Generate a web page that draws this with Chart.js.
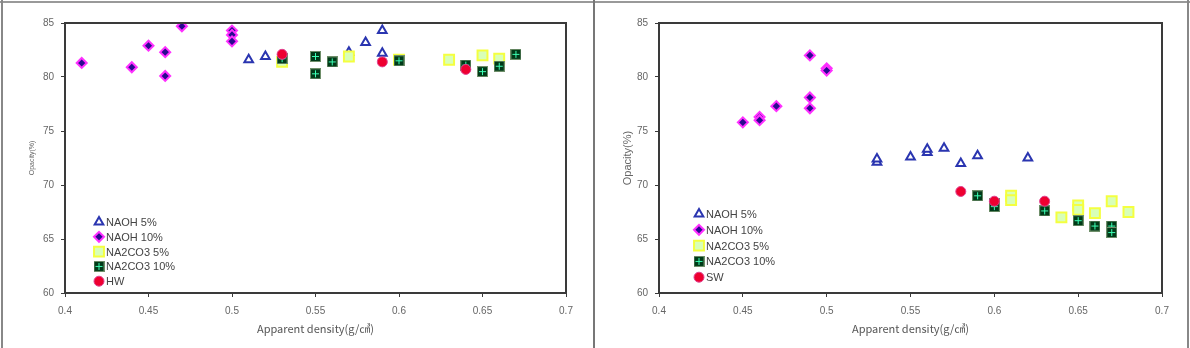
<!DOCTYPE html>
<html>
<head>
<meta charset="utf-8">
<script src="https://cdn.jsdelivr.net/npm/chart.js@4"></script>
<style>
  body { margin: 0; background: #fff; }
  #wrap { position: relative; width: 1190px; height: 348px; overflow: hidden; background: #fff; }
  .line { position: absolute; background: #888; }
  canvas { position: absolute; top: 0; }
</style>
</head>
<body>
<div id="wrap">
  <canvas id="left" width="594" height="348" style="left:0"></canvas>
  <canvas id="right" width="596" height="348" style="left:594px"></canvas>
  <div class="line" style="left:0;top:1px;width:1190px;height:2px;background:#999"></div>
  <div class="line" style="left:1px;top:0;width:2px;height:348px"></div>
  <div class="line" style="left:593px;top:0;width:2px;height:348px;background:#777"></div>
  <div class="line" style="left:1187px;top:0;width:2px;height:348px"></div>
</div>
<script>
// ---- data: left panel (HW) ----
var leftNaoh5X = [0.51, 0.52, 0.57, 0.58, 0.59, 0.59];
var leftNaoh5Y = [81.6, 81.9, 82.3, 83.2, 84.3, 82.2];
var leftNaoh10X = [0.41, 0.44, 0.45, 0.46, 0.46, 0.47, 0.5, 0.5, 0.5];
var leftNaoh10Y = [81.3, 80.9, 82.9, 82.3, 80.1, 84.7, 84.3, 83.9, 83.3];
var leftNa5X = [0.53, 0.57, 0.6, 0.63, 0.65, 0.66];
var leftNa5Y = [81.4, 81.9, 81.6, 81.6, 82.0, 81.7];
var leftNa10X = [0.53, 0.55, 0.55, 0.56, 0.6, 0.64, 0.65, 0.66, 0.67];
var leftNa10Y = [81.7, 81.9, 80.3, 81.4, 81.5, 81.1, 80.5, 81.0, 82.1];
var leftHwX = [0.53, 0.59, 0.64];
var leftHwY = [82.1, 81.4, 80.7];

// ---- data: right panel (SW) ----
var rightNaoh5X = [0.53, 0.53, 0.55, 0.56, 0.56, 0.57, 0.58, 0.59, 0.62];
var rightNaoh5Y = [72.1, 72.4, 72.6, 73.0, 73.3, 73.4, 72.0, 72.7, 72.5];
var rightNaoh10X = [0.45, 0.46, 0.46, 0.47, 0.49, 0.49, 0.49, 0.5, 0.5];
var rightNaoh10Y = [75.8, 76.3, 76.0, 77.3, 82.0, 78.1, 77.1, 80.8, 80.6];
var rightNa5X = [0.61, 0.61, 0.64, 0.65, 0.65, 0.66, 0.67, 0.68];
var rightNa5Y = [69.0, 68.6, 67.0, 68.1, 67.7, 67.4, 68.5, 67.5];
var rightNa10X = [0.59, 0.6, 0.6, 0.63, 0.65, 0.66, 0.67, 0.67];
var rightNa10Y = [69.0, 68.3, 68.0, 67.6, 66.7, 66.2, 66.2, 65.6];
var rightSwX = [0.58, 0.6, 0.63];
var rightSwY = [69.4, 68.5, 68.5];

var xTicks = [0.4, 0.45, 0.5, 0.55, 0.6, 0.65, 0.7];
var yTicks = [60, 65, 70, 75, 80, 85];
var seriesNames = ['NAOH 5%', 'NAOH 10%', 'NA2CO3 5%', 'NA2CO3 10%'];

function pts(xs, ys) {
  return xs.map(function (x, i) { return { x: x, y: ys[i] }; });
}

// dark green square with a light cross
function crossSquare() {
  var c = document.createElement('canvas');
  c.width = 11; c.height = 11;
  var g = c.getContext('2d');
  g.fillStyle = '#6f8f6a'; g.fillRect(0, 0, 11, 11);
  g.fillStyle = '#003a18'; g.fillRect(1, 1, 9, 9);
  g.fillStyle = '#3cffb4'; g.fillRect(5, 2, 1, 7); g.fillRect(2, 5, 7, 1);
  return c;
}
var crossImg = crossSquare();

var styles = [
  { pointStyle: 'triangle', radius: 5, backgroundColor: '#ffffff', borderColor: '#2a35b0', borderWidth: 2, order: 5 },
  { pointStyle: 'rectRot', radius: 5, backgroundColor: '#2a0a90', borderColor: '#ff30ff', borderWidth: 2, order: 4 },
  { pointStyle: 'rect', radius: 7, backgroundColor: '#d8ffb8', borderColor: '#f4ff40', borderWidth: 2, order: 3 },
  { pointStyle: crossImg, radius: 6, backgroundColor: '#003a18', borderColor: '#6f8f6a', borderWidth: 1, order: 2 },
  { pointStyle: 'circle', radius: 5, backgroundColor: '#ee0030', borderColor: '#e04090', borderWidth: 1, order: 1 }
];

function buildDatasets(groups, names) {
  return groups.map(function (g, i) {
    var s = styles[i];
    return {
      label: names[i],
      data: pts(g[0], g[1]),
      pointStyle: s.pointStyle,
      pointRadius: s.radius,
      pointHoverRadius: s.radius,
      backgroundColor: s.backgroundColor,
      borderColor: s.borderColor,
      borderWidth: s.borderWidth,
      order: s.order,
      showLine: false
    };
  });
}

// legend drawn inside the plot area, plus the box around it
var boxLegend = {
  id: 'boxLegend',
  afterDatasetsDraw: function (chart, args, opts) {
    var ctx = chart.ctx, a = chart.chartArea;
    ctx.save();
    ctx.strokeStyle = '#3a3a3a';
    ctx.lineWidth = 2;
    ctx.strokeRect(a.left, a.top, a.right - a.left, a.bottom - a.top);
    ctx.font = '11px "Liberation Sans", Arial, sans-serif';
    ctx.textBaseline = 'middle';
    chart.data.datasets.forEach(function (ds, i) {
      var y = opts.y + i * opts.step;
      var s = styles[i];
      ctx.fillStyle = s.backgroundColor;
      ctx.strokeStyle = s.borderColor;
      ctx.lineWidth = s.borderWidth;
      Chart.helpers.drawPoint(ctx, { pointStyle: s.pointStyle, radius: s.radius, rotation: 0, borderWidth: s.borderWidth }, opts.x, y);
      ctx.fillStyle = '#444';
      ctx.fillText(ds.label, opts.x + 7, y + 1);
    });
    ctx.restore();
  }
};

function makeChart(id, groups, lastName, yTitleSize, yTitlePad, legendPos) {
  var names = seriesNames.concat([lastName]);
  return new Chart(document.getElementById(id), {
    type: 'scatter',
    data: { datasets: buildDatasets(groups, names) },
    plugins: [boxLegend],
    options: {
      responsive: false,
      animation: false,
      layout: { padding: { left: 0, right: 28, top: 23, bottom: 0 } },
      plugins: {
        legend: { display: false },
        tooltip: { enabled: false },
        boxLegend: legendPos
      },
      scales: {
        x: {
          type: 'linear',
          min: xTicks[0],
          max: xTicks[xTicks.length - 1],
          afterBuildTicks: function (scale) {
            scale.ticks = xTicks.map(function (v) { return { value: v }; });
          },
          afterFit: function (scale) { scale.height = 55; },
          grid: { drawOnChartArea: false, drawTicks: true, tickLength: 4, color: '#3a3a3a' },
          border: { color: '#3a3a3a', width: 2 },
          ticks: {
            padding: 8,
            color: '#666',
            font: { size: 10, family: '"Liberation Sans", Arial, sans-serif' },
            callback: function (v) { return String(Number(v.toFixed(2))); }
          },
          title: {
            display: true,
            text: 'Apparent density(g/㎤)',
            color: '#555',
            font: { size: 11, family: '"Noto Sans CJK KR", sans-serif' },
            padding: { top: 0, bottom: 13 }
          }
        },
        y: {
          min: yTicks[0],
          max: yTicks[yTicks.length - 1],
          afterBuildTicks: function (scale) {
            scale.ticks = yTicks.map(function (v) { return { value: v }; });
          },
          afterFit: function (scale) { scale.width = 65; },
          grid: { drawOnChartArea: false, drawTicks: true, tickLength: 4, color: '#3a3a3a' },
          border: { color: '#3a3a3a', width: 2 },
          ticks: {
            padding: 7,
            color: '#666',
            font: { size: 10, family: '"Liberation Sans", Arial, sans-serif' }
          },
          title: {
            display: true,
            text: 'Opacity(%)',
            color: '#666',
            font: { size: yTitleSize, family: '"Liberation Sans", Arial, sans-serif' },
            padding: { top: yTitlePad, bottom: 0 }
          }
        }
      }
    }
  });
}

makeChart('left', [
  [leftNaoh5X, leftNaoh5Y],
  [leftNaoh10X, leftNaoh10Y],
  [leftNa5X, leftNa5Y],
  [leftNa10X, leftNa10Y],
  [leftHwX, leftHwY]
], 'HW', 7, 28, { x: 99, y: 222, step: 14.8 });

makeChart('right', [
  [rightNaoh5X, rightNaoh5Y],
  [rightNaoh10X, rightNaoh10Y],
  [rightNa5X, rightNa5Y],
  [rightNa10X, rightNa10Y],
  [rightSwX, rightSwY]
], 'SW', 11, 27, { x: 105, y: 214, step: 15.8 });
</script>
</body>
</html>
